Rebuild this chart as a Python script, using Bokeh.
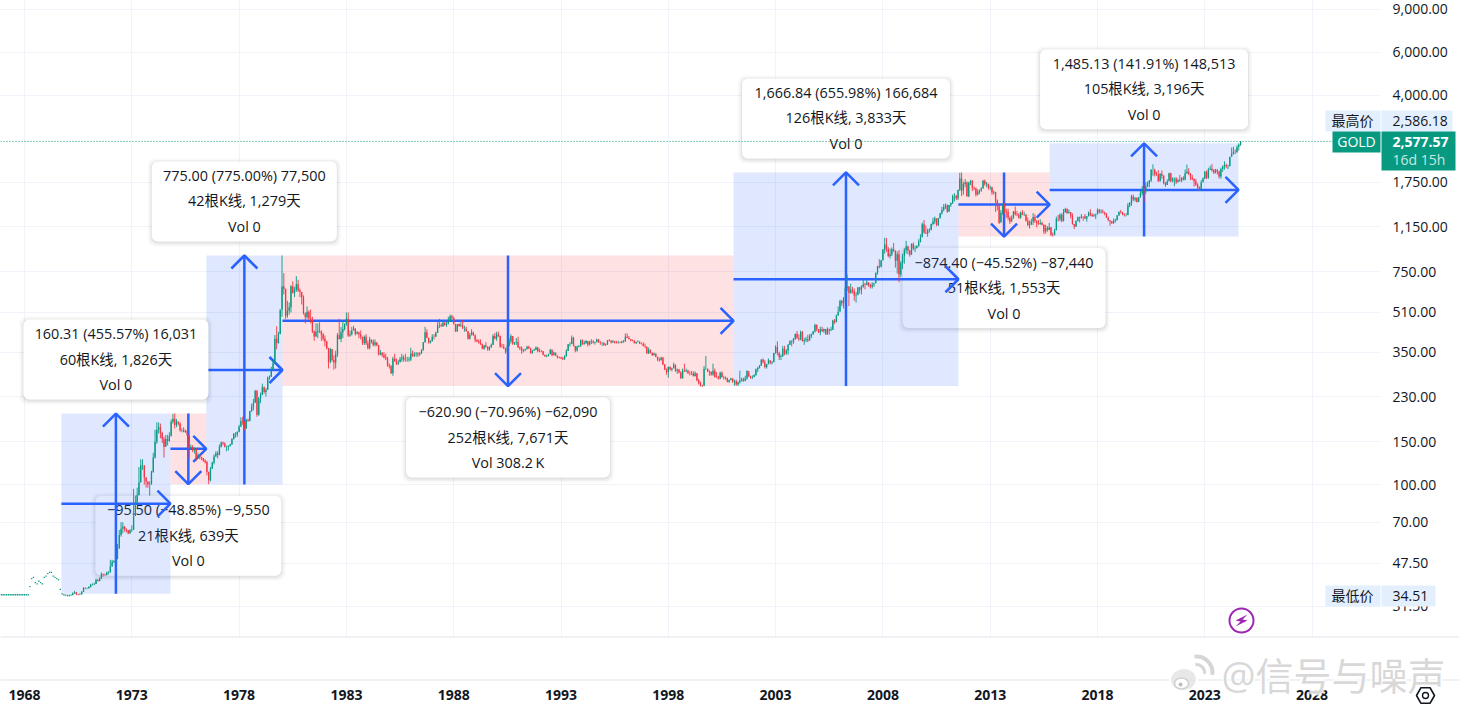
import math
from bokeh.plotting import figure
from bokeh.embed import file_html
from bokeh.resources import INLINE
from bokeh.core.properties import value
from bokeh.models import Range1d, FixedTicker, NumeralTickFormatter, PrintfTickFormatter, Span

# ---------- chart values ----------
PRICE_TICKS = [9000, 6000, 4000, 1750, 1150, 750, 510, 350, 230, 150, 100, 70, 47.5, 31.5]
YEAR_TICKS = [1968, 1973, 1978, 1983, 1988, 1993, 1998, 2003, 2008, 2013, 2018, 2023, 2028]
LAST_PRICE = 2577.57
HIGHEST = 2586.18
LOWEST = 34.51

EARLY_START = 1966.92
EARLY_DOTS = [35.2]*16 + [38, 41, 41.5, 39.5, 39, 40, 39.5, 39, 41.5, 42, 43, 43.5, 43.5, 42, 41.5, 41, 40.5, 37, 35.5, 35.2, 35.1]

CLOSE_70S = [34.9,35.0,35.1,35.6,36.0,35.4,35.3,35.4,36.2,37.5,37.4,37.4, 37.9,38.7,38.9,39.0,40.5,40.1,41.0,42.8,42.6,42.5,43.5,43.5,
 46,48,48.4,49.5,54.6,62,65.7,67,65.5,64.9,62.9,64.9, 65.1,74.2,84.3,90.5,102,120,120,106.8,103,100,100,112.25,
 129,150,168,172,163,154,143,154,151,158,181,186.5, 175.8,181.8,178,167,167,165,166,159.8,141.3,142.9,138.2,140.25,
 128.2,132.3,129.6,128.4,125.6,123.8,112.5,104,116,123.2,130.3,134.5, 132.3,142.7,148.9,147.3,143,143,144.1,146,154,161.5,160.5,164.95,
 173,182.3,181.6,170.9,184.1,183,200.3,208.7,217.1,242.6,193.4,226, 233.7,251.3,240,245.3,274.6,277.5,295.2,315.1,397.3,382,415.7,524]
HIGH_70S = [35.3,35.3,35.4,36.0,36.5,36.0,35.5,35.7,36.4,37.8,37.8,37.6, 38.2,39.0,39.2,39.5,41,40.8,41.5,43.5,43,43,43.8,44,
 49,49,48.8,49.8,57,65,70,70,67.5,66,65,65.5, 68,96,90,97,118,127,127,120,107,103,103,114,
 135,168,180,180,178,165,157,160,160,164,185,195, 196,186,181,180,170,172,168,168,160,146,145,142,
 141,135,133,130,128,127,125,113,118,124,133,137, 137,146,150,150,149,144.5,145,147,155,163,164,165,
 176,189,190,182,186,187,201,215,225,245,245,229, 239,260,253,249,278,281,305,325,412,448,425,525]
LOW_70S = [34.6,34.6,34.8,35.0,35.5,35.1,35.0,35.1,35.3,36.1,37.1,37.1, 37.3,37.7,38.5,38.5,38.9,39.9,40,41,41.8,42.1,42.2,42.7,
 43.5,46,47.5,48,49.2,54.5,61,63,64,63.5,62.5,62.8, 63.8,65,77,84,90,102,115,100,97,97,90,100,
 112,128,147,162,155,148,129,143,145,150,158,178, 170,172,175,165,164,164,163,158,128,140,136,134,
 125,128,127,126,124,122,109,100.3,103,116,121,130, 128,132,142,145,142,137,138,143,146,153,156,157,
 164,173,176,167,169,181,182,199,202,217,190,192, 216,233,236,230,245,270,277,296,318,360,380,415]

CLOSE_80S = [653,637,494.5,518,535.5,653.5,614.25,631.25,666.75,629,619.75,589.75, 506.5,489,513.75,482.75,479.25,426,406,425,428.75,427,414.5,397.5,
 387,362.6,320,361.25,325.25,317.5,342.9,411.5,397,423.25,436,456.9, 481,410,414.75,429.25,437.5,416,422,414.25,405,382,405,381.5,
 363.75,394.25,388.5,375.5,384.25,373.75,342.4,348.25,341,333.25,329,309, 306.65,287,329.25,321.4,314,317.75,327.5,333.25,326.5,325.1,325.3,326.6,
 345.5,338.15,344,345.75,342.5,345.75,357.5,384.7,423.2,401,383.5,388.75, 405.5,405.2,421,451,451.5,447.3,462.5,453.4,459.5,468.75,492.5,484.1,
 458,426,457,449,451,437,437,427.75,397.7,412.25,422.6,410.25, 394,387,383.2,377.6,361.8,373,368.3,359.8,366.5,375.3,408.15,398.6]
HIGH_80S = [875,740,640,570,560,660,685,650,720,695,640,620, 600,510,540,520,525,490,430,460,460,465,430,420,
 410,390,365,365,360,340,355,420,480,445,470,460, 510,510,430,445,450,440,428,425,430,405,410,415,
 390,405,395,395,395,385,375,358,350,350,345,335, 315,310,335,345,330,325,335,345,340,345,335,335,
 365,355,350,350,350,350,360,385,445,435,400,392, 415,415,425,465,480,460,470,468,466,490,500,499,
 490,445,450,460,465,475,450,445,425,420,435,425, 415,395,395,395,380,375,385,370,370,380,415,420]
LOW_80S = [490,605,480,485,500,510,610,590,620,620,590,550, 500,460,480,475,460,420,390,405,400,420,390,390,
 370,360,300,315,320,297,300,335,395,385,400,430, 450,405,405,410,435,410,415,400,395,375,375,375,
 360,360,380,370,370,370,340,340,335,330,325,305, 300,285,280,320,310,310,320,320,320,320,320,320,
 322,335,335,335,335,338,345,355,383,400,380,380, 388,395,405,420,440,445,445,450,445,455,470,475,
 455,425,425,445,445,445,425,425,395,395,410,410, 385,385,380,375,360,358,365,355,355,365,375,395]

CLOSE_90S = [415.05,407.7,368.5,367.75,363.05,352.2,372.3,387.75,408.35,379.5,384.85,386.2, 366,362.7,355.65,357.75,360.4,368.4,362.95,347.4,354.9,357.45,366.3,353.2,
 354.1,353.2,341.7,336.4,337.5,343.4,357.9,340.3,349.1,339.25,334.2,332.9, 330.45,327.6,337.8,354.3,377.45,378.5,401.75,371.6,355.5,369.6,370.9,391.75,
 377.9,381.6,389.2,376.45,387.6,388.25,384,385.75,394.85,383.9,383.1,383.25, 374.9,376.4,392,389.75,384.3,387.05,383.35,382.35,384,382.65,387.8,387,
 405.55,400.65,396.35,391.25,390.75,382,385.3,386.45,379,378,371.3,369.25, 345.5,358.6,348.2,340.15,345.6,334.6,326.4,325.4,332.1,311.4,296.8,290.2,
 304.85,297.4,301,310.7,293.6,296.25,288.9,273.4,293.85,292.3,294.7,287.8, 287.1,287.05,279.45,286.6,268.6,261,255.6,254.8,299,299.1,291.35,290.25]
HIGH_90S = [425,425,410,380,378,365,375,400,415,405,385,400, 405,370,370,360,362,372,372,365,358,362,370,368,
 362,358,354,342,342,345,362,360,352,345,338,336, 335,335,340,360,378,385,410,405,372,372,375,395,
 395,390,393,388,390,396,392,387,398,397,389,386, 384,380,393,396,393,393,390,390,390,387,390,393,
 418,418,408,396,395,392,387,392,388,383,385,380, 368,366,358,349,349,345,336,333,335,335,313,300,
 305,305,302,317,312,300,299,292,300,314,300,296, 292,293,292,292,287,272,265,257,307,338,300,295]
LOW_90S = [390,405,365,365,360,345,350,370,380,375,375,375, 365,357,345,350,353,360,362,345,345,355,357,350,
 350,350,340,336,334,337,345,337,340,337,330,330, 328,325,326,335,355,369,378,370,350,352,367,368,
 375,377,378,370,373,378,380,376,384,383,376,372, 372,372,375,388,380,382,380,380,380,381,381,383,
 387,400,395,388,388,380,378,384,378,377,370,364, 345,345,346,338,340,334,322,320,323,310,296,283,
 275,295,292,301,291,285,287,272,273,290,290,285, 281,282,278,278,266,258,253,252,254,296,290,280]

CLOSE_00S = [283.3,293.65,276.75,275.1,272.25,288.15,276.75,277,273.65,264.5,269.1,272.65, 264.5,266.7,257.7,263.15,267.5,270.6,265.9,273,293.1,278.75,275.5,276.5,
 282.3,296.85,301.4,308.2,326.6,318.5,304.65,312.8,323.7,316.9,319.05,347.2, 367.5,347.45,334.85,336.75,361.4,346,354.75,375.6,388,386.25,398.35,416.25,
 399.75,395.85,423.7,388.5,393.25,395.8,391.4,407.25,415.65,425.55,453.4,435.6, 422.15,435.45,427.5,435.7,414.45,437.1,429,433.25,473.25,465,495.65,513,
 568.75,556,582,644,653,613.5,632.5,623.5,599.25,603.05,646.7,632, 650.5,664.2,661.75,677,659.1,650.5,665.5,672,743,789.5,783.5,833.75,
 923.25,971.5,933.5,871,885.75,930.25,918,833,884.5,730.75,814.5,869.75, 919.5,952,916.5,883.25,975.5,934.5,939,955.5,995.75,1040,1175.75,1087.5]
HIGH_00S = [292,314,300,290,280,291,292,280,278,275,270,275, 273,270,270,265,294,275,275,280,295,285,280,281,
 284,300,305,310,327,330,325,312,330,325,322,348, 374,388,352,343,372,372,360,378,392,392,400,418,
 428,415,430,428,400,405,413,415,418,428,458,456, 428,445,446,438,435,443,432,445,476,480,500,540,
 575,575,590,650,731,655,670,650,640,620,650,650, 660,695,675,695,680,670,680,675,745,795,845,840,
 930,1035,1033,950,935,945,985,915,910,920,830,890, 937,1005,960,925,982,990,960,965,1020,1070,1195,1225]
LOW_00S = [280,280,275,275,270,271,275,270,270,263,262,268, 262,255,255,254.1,260,265,265,270,270,277,272,272,
 276,280,290,300,308,315,300,300,312,312,312,318, 345,340,325,325,335,340,342,342,375,370,379,393,
 398,390,392,388,375,385,385,390,400,412,422,427, 420,411,424,420,414,414,414,430,433,457,465,495,
 516,542,530,585,625,542,610,610,570,560,600,610, 605,645,635,660,650,640,640,650,673,730,775,790,
 840,890,905,860,850,870,905,780,738,680,715,770, 810,890,885,865,880,920,905,935,955,990,1040,1075]

CLOSE_10S = [1078.5,1108.25,1115.5,1179.25,1207.5,1244,1169,1246,1307,1346.75,1383.5,1405.5, 1327,1411,1439,1535.5,1536.5,1505.5,1628.5,1813.5,1620,1722,1746,1531,
 1744,1770,1662.5,1651.25,1558,1598.5,1622,1648.5,1776,1719,1726,1657.5, 1664.75,1588.5,1598.25,1469,1394.5,1192,1314.5,1396.75,1326.5,1324,1253,1204.5,
 1244.8,1326.5,1291.75,1288.5,1250.5,1315,1285.25,1285.75,1216.5,1164.25,1175.5,1206, 1260.25,1214,1187,1180.25,1191.4,1171,1098.4,1135,1114,1142.35,1065,1060,
 1111.8,1234.9,1232.71,1285.65,1212.1,1320.75,1357.5,1306.9,1322.5,1272,1178.1,1151.7, 1212.8,1255.6,1244.85,1266.45,1266.2,1242.25,1267.55,1311.75,1283.1,1270.15,1280.15,1291,
 1345.15,1318.4,1323.85,1315.05,1305.35,1250.55,1223.55,1206.65,1187.25,1214.95,1220.65,1279, 1323.25,1319.15,1295.4,1283.6,1283.95,1409,1437.55,1528.4,1485.3,1510.95,1452.05,1514.75]
HIGH_10S = [1162,1128,1132,1183,1250,1265,1205,1250,1310,1388,1425,1432, 1420,1412,1446,1558,1578,1555,1632,1915,1920,1760,1805,1765,
 1760,1790,1790,1680,1665,1640,1632,1670,1790,1796,1755,1725, 1695,1680,1620,1600,1488,1424,1348,1433,1435,1361,1362,1267,
 1280,1332,1392,1332,1307,1326,1345,1324,1296,1255,1218,1239, 1308,1290,1220,1225,1232,1205,1175,1170,1157,1192,1143,1088,
 1128,1264,1285,1305,1304,1360,1375,1367,1352,1310,1306,1180, 1220,1264,1264,1296,1272,1296,1272,1326,1358,1306,1299,1300,
 1366,1362,1356,1353,1326,1308,1265,1218,1214,1243,1238,1284, 1326,1347,1324,1303,1305,1439,1452,1555,1557,1518,1516,1525]
LOW_10S = [1075,1045,1085,1110,1165,1180,1155,1157,1243,1290,1330,1360, 1309,1322,1386,1425,1462,1478,1480,1610,1535,1555,1670,1530,
 1525,1705,1610,1625,1530,1545,1565,1600,1650,1695,1670,1635, 1625,1555,1560,1321,1340,1180,1205,1285,1295,1250,1222,1180,
 1221,1240,1277,1270,1240,1240,1282,1273,1207,1160,1130,1167, 1168,1191,1142,1170,1170,1163,1072,1077,1097,1112,1052,1046.5,
 1062,1112,1208,1212,1199,1207,1310,1300,1304,1242,1172,1124, 1146,1209,1195,1244,1214,1236,1205,1268,1270,1262,1264,1236,
 1303,1303,1303,1303,1282,1250,1211,1160,1180,1183,1196,1221, 1276,1302,1281,1266,1267,1281,1381,1400,1465,1458,1445,1453]

CLOSE_20S = [1582.9,1609.85,1608.95,1686.2,1730.5,1781.1,1964.9,1968.6,1886.9,1879.9,1762.6,1898.35, 1863.3,1734,1707.5,1767.7,1907,1770.1,1813,1813.6,1756.95,1783.4,1774.5,1829.2,
 1796.4,1908.9,1937.4,1896.9,1837.3,1807.3,1766,1711,1661,1633.5,1746,1812.35, 1928.4,1826,1969.3,1990,1962.7,1919.3,1965,1939.9,1848.6,1983.9,2036.4,2062.4,
 2039.5,2044.3,2229.9,2286.3,2327.3,2326.8,2447.6,2503.4,2577.57]
HIGH_20S = [1611,1690,1704,1747,1765,1789,1985,2075,1992,1933,1966,1906, 1959,1872,1755,1798,1916,1916,1834,1833,1835,1814,1877,1832,
 1854,1975,2070,1998,1910,1879,1815,1808,1735,1682,1786,1832, 1949,1960,2009,2049,2078,1984,1987,1987,1953,2010,2052,2135,
 2088,2065,2222,2431,2450,2387,2483,2531.67,2586.18]
LOW_20S = [1517,1548,1451,1568,1670,1671,1757,1862,1849,1860,1764,1776, 1802,1717,1677,1707,1768,1750,1750,1687,1721,1746,1761,1753,
 1780,1781,1895,1872,1787,1785,1680,1690,1615,1617,1616,1766, 1804,1805,1810,1969,1932,1893,1903,1884,1816,1810,1932,1973,
 2001,1984,2030,2229,2277,2286,2319,2364,2471]

TOOL_START = [1969.72, 1974.80, 1976.47, 1980.02, 2001.04, 2011.52, 2015.77]
TOOL_END = [1974.80, 1976.47, 1980.02, 2001.04, 2011.52, 2015.77, 2024.57]
TOOL_FROM = [35.5, 195.81, 100.0, 875.0, 254.1, 1920.94, 1046.54]
TOOL_TO = [195.81, 100.31, 875.0, 254.1, 1920.94, 1046.54, 2531.67]
TOOL_LINE1 = ["160.31 (455.57%) 16,031", "\u221295.50 (\u221248.85%) \u22129,550", "775.00 (775.00%) 77,500",
              "\u2212620.90 (\u221270.96%) \u221262,090", "1,666.84 (655.98%) 166,684",
              "\u2212874.40 (\u221245.52%) \u221287,440", "1,485.13 (141.91%) 148,513"]
TOOL_LINE2 = ["60根K线, 1,826天", "21根K线, 639天", "42根K线, 1,279天", "252根K线, 7,671天",
              "126根K线, 3,833天", "51根K线, 1,553天", "105根K线, 3,196天"]
TOOL_LINE3 = ["Vol 0", "Vol 0", "Vol 0", "Vol 308.2\u2009K", "Vol 0", "Vol 0", "Vol 0"]

# ---------- layout and colours ----------
W, H = 1459, 712
FRAME_R, FRAME_B = 1380, 636
PX_YEAR, PX_LN = 21.46, 105.58
UP, DOWN = "#089981", "#F23645"
TEXT = "#131722"
BLUE = "#2962FF"
FONT = "'Open Sans', 'Noto Sans CJK SC'"
TOOL_WIDTHS = [185, 186, 185, 204, 208, 203, 208]

def X(px):
    return 1968 + (px - 24) / PX_YEAR
def Y(py):
    return 100 * math.exp((484 - py) / PX_LN)
def PX(x):
    return 24 + (x - 1968) * PX_YEAR
def PY(v):
    return 484 - PX_LN * math.log(v / 100)

p = figure(width=W, height=H, output_backend="svg", toolbar_location=None, y_axis_type="log",
           x_range=Range1d(X(0), X(FRAME_R)), y_range=Range1d(Y(FRAME_B), Y(0)),
           y_axis_location="right", min_border_left=0, min_border_top=0,
           min_border_right=W - FRAME_R, min_border_bottom=H - FRAME_B,
           background_fill_color="white", border_fill_color="white", outline_line_color=None)
p.styles = {"position": "absolute", "left": "0px", "top": "0px"}

p.yaxis.ticker = FixedTicker(ticks=PRICE_TICKS)
p.yaxis.formatter = NumeralTickFormatter(format="0,0.00")
p.xaxis.ticker = FixedTicker(ticks=YEAR_TICKS)
p.xaxis.formatter = PrintfTickFormatter(format="%d")
for ax in (p.xaxis[0], p.yaxis[0]):
    ax.axis_line_color = None
    ax.major_tick_line_color = None
    ax.minor_tick_line_color = None
    ax.major_tick_in = 0
    ax.major_tick_out = 0
    ax.minor_tick_in = 0
    ax.minor_tick_out = 0
    ax.major_label_text_color = TEXT
    ax.major_label_text_font = "Open Sans"
    ax.major_label_text_font_size = "14px"
p.yaxis.major_label_standoff = 12
p.xaxis.major_label_standoff = 53
p.xaxis.major_label_text_font_style = "bold"
p.xgrid.grid_line_color = "#F0F3FA"
p.ygrid.grid_line_color = "#F0F3FA"

# ---------- position tools (earlier tools lie above later ones) ----------
for i in reversed(range(len(TOOL_START))):
    x0, x1 = TOOL_START[i], TOOL_END[i]
    a, b = TOOL_FROM[i], TOOL_TO[i]
    rising = b > a
    cx = (x0 + x1) / 2
    cy = math.sqrt(a * b)
    lw = TOOL_WIDTHS[i]
    top_px = PY(b) - 14 - 80 if rising else PY(b) + 11.5
    bot_px = top_px + 80
    cpx = PX(cx)
    for grow, alpha in ((4, 0.025), (2.5, 0.035), (1, 0.05)):
        p.quad(left=[X(cpx - lw / 2 - grow)], right=[X(cpx + lw / 2 + grow)],
               top=[Y(top_px - grow + 1)], bottom=[Y(bot_px + grow + 1)],
               fill_color="#000000", fill_alpha=alpha, line_color=None, border_radius=7)
    p.quad(left=[X(cpx - lw / 2)], right=[X(cpx + lw / 2)], top=[Y(top_px)], bottom=[Y(bot_px)],
           fill_color="white", line_color=None, border_radius=6)
    p.text(x=[cx] * 3, y=[Y(top_px + 14), Y(top_px + 39.5), Y(top_px + 65)],
           text=[TOOL_LINE1[i], TOOL_LINE2[i], TOOL_LINE3[i]], text_align="center", text_baseline="middle",
           text_color=TEXT, text_font=value(FONT), text_font_size="14.4px")
    p.quad(left=[x0], right=[x1], top=[max(a, b)], bottom=[min(a, b)],
           fill_color=BLUE if rising else DOWN, fill_alpha=0.15, line_color=None)
    hx = 13 / PX_YEAR
    hy = math.exp(13 / PX_LN)
    back = 1 / hy if rising else hy
    p.multi_line(xs=[[cx, cx], [x0, x1], [cx - hx, cx, cx + hx], [x1 - hx, x1, x1 - hx]],
                 ys=[[a, b], [cy, cy], [b * back, b, b * back], [cy * hy, cy, cy / hy]],
                 line_color=BLUE, line_width=2.5)

# ---------- price series on top ----------
close = CLOSE_70S + CLOSE_80S + CLOSE_90S + CLOSE_00S + CLOSE_10S + CLOSE_20S
high = HIGH_70S + HIGH_80S + HIGH_90S + HIGH_00S + HIGH_10S + HIGH_20S
low = LOW_70S + LOW_80S + LOW_90S + LOW_00S + LOW_10S + LOW_20S
opens = [close[0]] + close[:-1]
xs = [1970 + k / 12 for k in range(len(close))]
colors = [UP if c >= o else DOWN for o, c in zip(opens, close)]
p.segment(x0=xs, x1=xs, y0=low, y1=high, line_color=colors, line_width=0.9)
p.segment(x0=xs, x1=xs, y0=opens, y1=close, line_color=colors, line_width=1.3)
p.scatter(x=[EARLY_START + k / 12 for k in range(len(EARLY_DOTS))], y=EARLY_DOTS, marker="square", size=1.3,
          fill_color=UP, line_color=None)

p.add_layout(Span(location=LAST_PRICE, dimension="width", line_color=UP, line_dash="1 2", line_width=1))

# bolt icon
p.scatter(x=[X(1241)], y=[Y(620)], marker="circle", size=24, fill_color="white", line_color="#9C27B0", line_width=2)
bolt_x = [6, -6, -1, -6, 6, 1]
bolt_y = [-6, 0, 1, 6, 0, -1]
p.patch(x=[X(1241 + d) for d in bolt_x], y=[Y(620 + d) for d in bolt_y], fill_color="#9C27B0", line_color=None)

# ---------- overlay in window pixels: separators, price-axis chips, watermark ----------
o = figure(width=W, height=H, output_backend="svg", toolbar_location=None,
           x_range=Range1d(0, W), y_range=Range1d(H, 0), x_axis_location=None, y_axis_location=None,
           min_border=0, background_fill_color=None, border_fill_color=None, outline_line_color=None)
o.styles = {"position": "absolute", "left": "0px", "top": "0px"}
o.grid.visible = False

def box(l, r, t, b, color):
    o.quad(left=[l], right=[r], top=[t], bottom=[b], fill_color=color, line_color=None)
def label(px, py, text, color=TEXT, size="14px", align="center", style="normal", alpha=1.0):
    o.text(x=[px], y=[py], text=[text], text_align=align, text_baseline="middle", text_color=color,
           text_font=value(FONT), text_font_size=size, text_font_style=style, text_alpha=alpha)

box(0, W, 636, 637, "#E0E3EB")
box(0, W, 679, 680, "#E0E3EB")

CHIP = "#E3EFFD"
box(1325, 1380, 110, 131, CHIP)
box(1381, 1452, 110, 131, CHIP)
box(1325, 1380, 585, 606, CHIP)
box(1381, 1435, 585, 606, CHIP)
box(1332, 1380, 131, 152, UP)
box(1381, 1455, 131, 170, UP)
label(1352, 120, "最高价")
label(1392, 120, f"{HIGHEST:,.2f}", align="left")
label(1352, 595, "最低价")
label(1392, 595, f"{LOWEST:,.2f}", align="left")
label(1356, 141, "GOLD", color="white")
label(1392, 141, f"{LAST_PRICE:,.2f}", color="white", align="left", style="bold")
label(1392, 159, "16d 15h", color="#C8E8E0", align="left")

o.scatter(x=[1425], y=[695], marker="hex", size=18, fill_color=None, line_color=TEXT, line_width=1.6)
o.scatter(x=[1425], y=[695], marker="circle", size=6, fill_color=None, line_color=TEXT, line_width=1.4)

# watermark: white halo, then grey logo and text
WM_TEXT = "@信号与噪声"
for dx, dy in ((-2, 0), (2, 0), (0, -2), (0, 2), (-1.5, -1.5), (1.5, -1.5), (-1.5, 1.5), (1.5, 1.5)):
    label(1221 + dx, 674 + dy, WM_TEXT, color="white", size="38px", align="left", alpha=0.55)
label(1221, 674, WM_TEXT, color="#D6D6D6", size="38px", align="left", alpha=0.95)
o.ellipse(x=[1183], y=[679], width=[27], height=[23], angle=[0.15], fill_color="#E6E6E6", fill_alpha=0.9,
          line_color="#FFFFFF", line_width=2)
o.ellipse(x=[1181], y=[683], width=[14], height=[11], fill_color="white", line_color="#D0D0D0", line_width=1.5)
o.scatter(x=[1180], y=[684], marker="circle", size=4, fill_color="#BDBDBD", line_color=None)
o.arc(x=[1196], y=[672], radius=[16], start_angle=[-0.15], end_angle=[1.7], line_color="#D6D6D6", line_width=4)
o.arc(x=[1196], y=[672], radius=[8], start_angle=[-0.15], end_angle=[1.7], line_color="#D6D6D6", line_width=3)

open("out.html", "w").write(file_html([p, o], INLINE))
